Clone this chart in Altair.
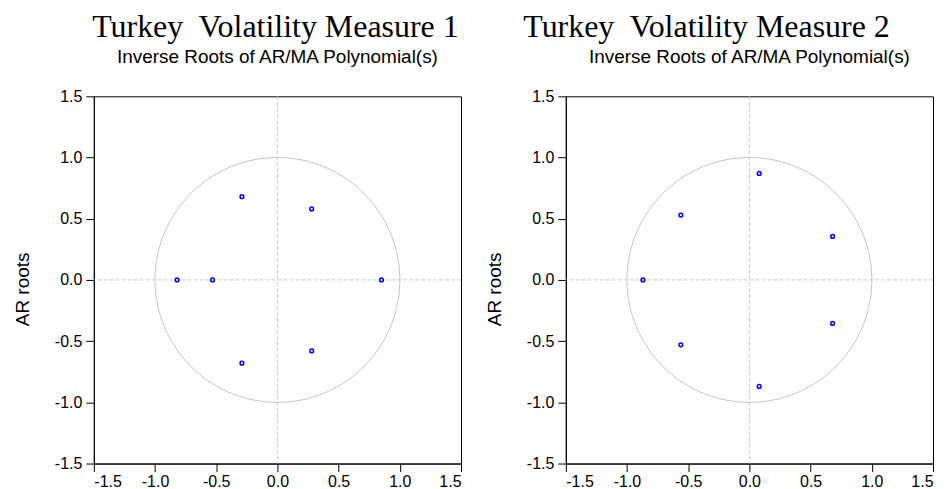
import altair as alt
import pandas as pd

m1_re = [-0.29, -0.29, 0.28, 0.28, -0.82, -0.53, 0.85]
m1_im = [0.68, -0.68, 0.58, -0.58, 0.0, 0.0, 0.0]
m2_re = [0.08, 0.08, -0.56, -0.56, 0.68, 0.68, -0.87]
m2_im = [0.87, -0.87, 0.53, -0.53, 0.355, -0.355, 0.0]

titles = ["Turkey\u00a0 Volatility Measure 1", "Turkey\u00a0 Volatility Measure 2"]
subtitle = "Inverse Roots of AR/MA Polynomial(s)"
ticks = [-1.5, -1.0, -0.5, 0.0, 0.5, 1.0, 1.5]
y_title = "AR roots"

W, H = 368, 368
SANS = "Liberation Sans"
SERIF = "Liberation Serif"
LABEL = "datum.value < 0 ? '-' + format(-datum.value, '.1f') : format(datum.value, '.1f')"


def panel(re, im, title, title_dx):
    xs = alt.Scale(domain=[-1.5, 1.5], nice=False, zero=False)
    ys = alt.Scale(domain=[-1.5, 1.5], nice=False, zero=False)
    xax = alt.Axis(values=ticks, labelExpr=LABEL, title=None, grid=False,
                   tickSize=8, labelPadding=2)
    yax = alt.Axis(values=ticks, labelExpr=LABEL, title=y_title, grid=False,
                   tickSize=8, labelPadding=4, titleX=-65, titleY=193,
                   titleBaseline="alphabetic", titleAlign="center", titleAngle=270)

    circle = alt.Chart(alt.sequence(0, 362, 2, as_="deg")).transform_calculate(
        cx="cos(datum.deg*PI/180)", cy="sin(datum.deg*PI/180)"
    ).mark_line(color="#c4c4c4", strokeWidth=1).encode(
        x=alt.X("cx:Q", scale=xs, axis=xax),
        y=alt.Y("cy:Q", scale=ys, axis=yax),
        order="deg:Q",
    )
    zero = pd.DataFrame({"z": [0.0]})
    vline = alt.Chart(zero).mark_rule(color="#cccccc", strokeDash=[4, 2], strokeWidth=1).encode(
        x=alt.X("z:Q", scale=xs, axis=xax))
    hline = alt.Chart(zero).mark_rule(color="#cccccc", strokeDash=[4, 2], strokeWidth=1).encode(
        y=alt.Y("z:Q", scale=ys, axis=yax))
    pts = alt.Chart(pd.DataFrame({"re": re, "im": im})).mark_point(
        shape="circle", filled=False, color="#0000ff", size=14, strokeWidth=1.5, opacity=1
    ).encode(
        x=alt.X("re:Q", scale=xs, axis=xax),
        y=alt.Y("im:Q", scale=ys, axis=yax),
    )
    t1 = alt.Chart(pd.DataFrame({"t": [title]})).mark_text(
        font=SERIF, fontSize=32, align="center", baseline="alphabetic", color="black"
    ).encode(text="t:N", x=alt.value(W / 2 + title_dx), y=alt.value(-59))
    t2 = alt.Chart(pd.DataFrame({"t": [subtitle]})).mark_text(
        font=SANS, fontSize=19, align="center", baseline="alphabetic", color="black"
    ).encode(text="t:N", x=alt.value(W / 2), y=alt.value(-33))
    return alt.layer(circle, vline, hline, pts, t1, t2).properties(width=W, height=H)


chart = alt.hconcat(
    panel(m1_re, m1_im, titles[0], -2),
    panel(m2_re, m2_im, titles[1], -43),
    spacing=23,
).properties(
    padding={"left": 5, "top": 2, "right": 5, "bottom": 0}
).configure_view(
    stroke="black", strokeWidth=1
).configure_axis(
    domainColor="black", tickColor="black", labelColor="black", titleColor="black",
    labelFont=SANS, labelFontSize=16, titleFont=SANS, titleFontSize=19,
    titleFontWeight="normal", domainWidth=1, tickWidth=1
)

chart.save("out.html", embed_options={"renderer": "svg", "actions": False})
